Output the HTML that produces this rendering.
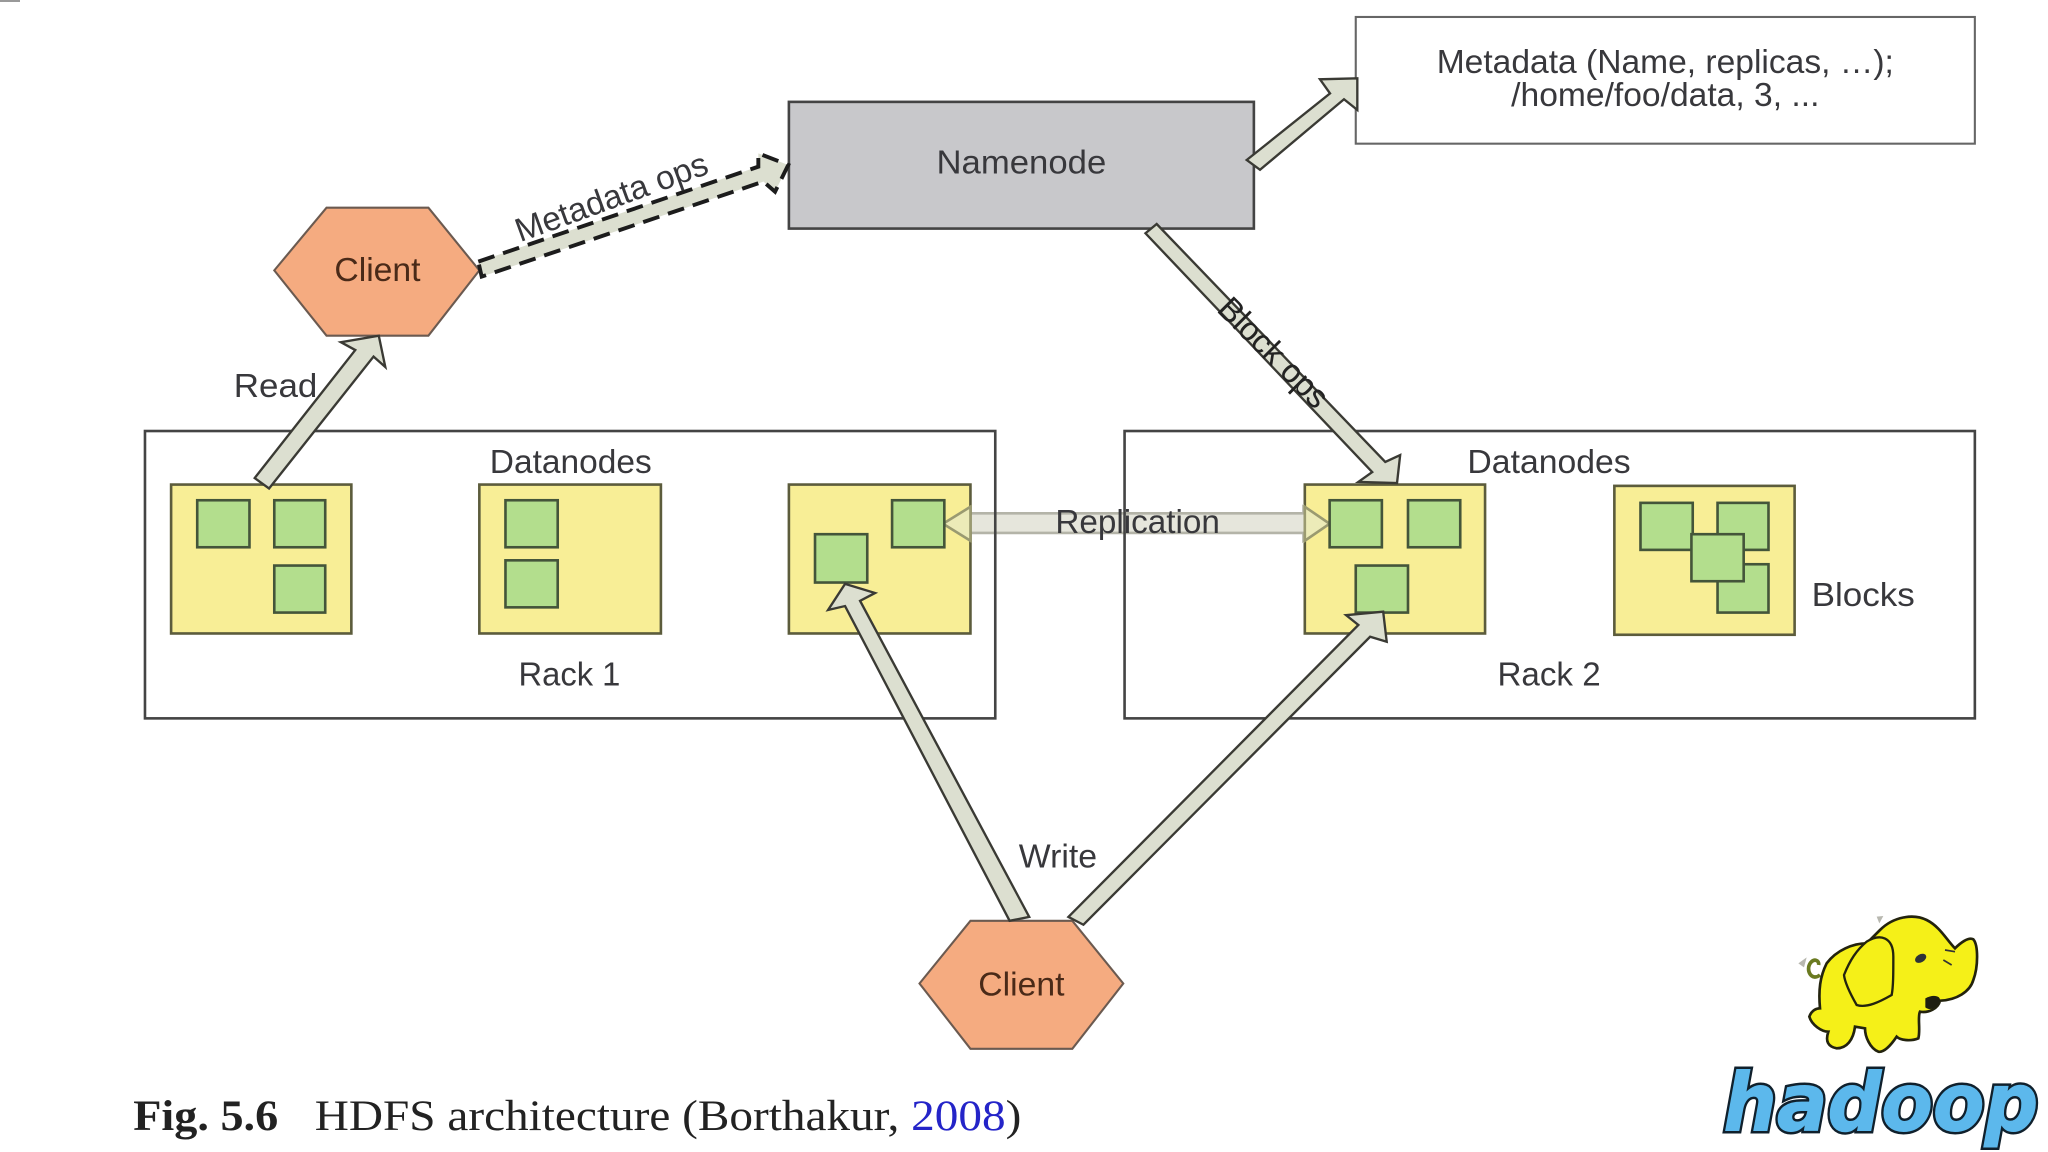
<!DOCTYPE html>
<html><head><meta charset="utf-8">
<style>
html,body{margin:0;padding:0;background:#fff;width:2048px;height:1152px;overflow:hidden}
svg{display:block}
text{font-family:"Liberation Sans",sans-serif;fill:#38383c;font-size:25.5px}
.c{text-anchor:middle}
.cap{font-family:"Liberation Serif",serif;font-size:33px;fill:#222}
.ar{fill:#dcdfd0;stroke:#3a3a34;stroke-width:1.8;stroke-linejoin:miter}
.r{fill:none;stroke:#444;stroke-width:2}
.y{fill:#f8ee96;stroke:#5c5c3c;stroke-width:2}
.g{fill:#b3de8d;stroke:#44553a;stroke-width:2}
.h{fill:#f5ab80;stroke:#6b5a50;stroke-width:1.6}
.hd{font-family:"DejaVu Sans",sans-serif;font-weight:bold;font-style:italic;font-size:240px}
</style></head><body>
<svg width="2048" height="1152" viewBox="0 0 2048 1152" xmlns="http://www.w3.org/2000/svg">
<rect width="2048" height="1152" fill="#fff"/>
<rect x="0" y="0" width="20" height="2" fill="#999"/>
<g transform="scale(1.30612)">
  <!-- replication -->
  <polygon points="722,401 743,388 743,393 998,393 998,388 1018,401 998,414 998,408 743,408 743,414" fill="#e6e6dc" stroke="#b4b4a8" stroke-width="2"/>
  <!-- racks -->
  <rect class="r" x="111" y="330" width="651" height="220"/>
  <rect class="r" x="861" y="330" width="651" height="220"/>
  <!-- nodes -->
  <rect class="y" x="131" y="371" width="138" height="114"/>
  <rect class="y" x="367" y="371" width="139" height="114"/>
  <rect class="y" x="604" y="371" width="139" height="114"/>
  <rect class="y" x="999" y="371" width="138" height="114"/>
  <rect class="y" x="1236" y="372" width="138" height="114"/>
  <polygon points="722,401 743,388 743,414" fill="#ecebb8" stroke="#9a9a70" stroke-width="2"/>
  <polygon points="1018,401 999,388 999,414" fill="#ecebb8" stroke="#9a9a70" stroke-width="2"/>
  <rect class="g" x="151" y="383" width="40" height="36"/>
  <rect class="g" x="210" y="383" width="39" height="36"/>
  <rect class="g" x="210" y="433" width="39" height="36"/>
  <rect class="g" x="387" y="383" width="40" height="36"/>
  <rect class="g" x="387" y="429" width="40" height="36"/>
  <rect class="g" x="683" y="383" width="40" height="36"/>
  <rect class="g" x="624" y="409" width="40" height="37"/>
  <rect class="g" x="1018" y="383" width="40" height="36"/>
  <rect class="g" x="1078" y="383" width="40" height="36"/>
  <rect class="g" x="1038" y="433" width="40" height="36"/>
  <rect class="g" x="1256" y="385" width="40" height="36"/>
  <rect class="g" x="1315" y="385" width="39" height="36"/>
  <rect class="g" x="1315" y="432" width="39" height="37"/>
  <rect class="g" x="1295" y="409" width="40" height="36"/>
  <!-- namenode / metadata -->
  <rect x="604" y="78" width="356" height="97" fill="#c8c8cb" stroke="#444" stroke-width="2"/>
  <rect x="1038" y="13" width="474" height="97" fill="#fff" stroke="#666" stroke-width="1.6"/>
  <!-- clients -->
  <polygon class="h" points="210,207 250,159 328,159 367,207 328,257 250,257"/>
  <polygon class="h" points="704,753 743,705 821,705 860,753 821,803 743,803"/>
  <!-- arrows -->
  <polygon class="ar" points="195,366 272,268 261,262 290,257 295,281 286,273 206,374"/>
  <polygon points="366.2,200.3 580.6,127.6 580.6,117.4 603.5,126.3 593.4,146.8 584.5,139 368.8,211.8" fill="#dcdfd0" stroke="#1c1c1c" stroke-width="3" stroke-dasharray="13 7"/>
  <polygon class="ar" points="877,178.6 885.6,171.5 1060.6,353.7 1072,348.4 1069.6,369.8 1040,369 1050.6,361.4"/>
  <polygon class="ar" points="954.5,122.5 1018.3,71.5 1010.6,60.7 1039.2,60 1039.2,84.2 1029,76 964.7,130"/>
  <polygon class="ar" points="773,705 647,464 634,467 647,447 670,454 658.5,460 788,702"/>
  <polygon class="ar" points="818,702 1040,478.5 1030.6,471 1059,468.3 1061.7,491.3 1049,487.5 829.5,708"/>
  <!-- labels -->
  <text class="c" x="782" y="133" textLength="130" lengthAdjust="spacingAndGlyphs">Namenode</text>
  <text class="c" x="1275" y="56" textLength="350" lengthAdjust="spacingAndGlyphs">Metadata (Name, replicas, …);</text>
  <text class="c" x="1275" y="81" textLength="236" lengthAdjust="spacingAndGlyphs">/home/foo/data, 3, ...</text>
  <text class="c" x="289" y="215" textLength="66" lengthAdjust="spacingAndGlyphs" style="fill:#4a2a18">Client</text>
  <text class="c" x="782" y="762" textLength="66" lengthAdjust="spacingAndGlyphs" style="fill:#4a2a18">Client</text>
  <text x="179" y="304" textLength="64" lengthAdjust="spacingAndGlyphs">Read</text>
  <text class="c" x="437" y="362" textLength="124" lengthAdjust="spacingAndGlyphs">Datanodes</text>
  <text class="c" x="1186" y="362" textLength="125" lengthAdjust="spacingAndGlyphs">Datanodes</text>
  <text class="c" x="436" y="525" textLength="78" lengthAdjust="spacingAndGlyphs">Rack 1</text>
  <text class="c" x="1186" y="525" textLength="79" lengthAdjust="spacingAndGlyphs">Rack 2</text>
  <text x="808" y="408" textLength="126" lengthAdjust="spacingAndGlyphs">Replication</text>
  <text x="1387" y="464" textLength="79" lengthAdjust="spacingAndGlyphs">Blocks</text>
  <text x="780" y="664" textLength="60" lengthAdjust="spacingAndGlyphs">Write</text>
  <text class="c" transform="translate(471,159) rotate(-20)" x="0" y="0" textLength="155" lengthAdjust="spacingAndGlyphs">Metadata ops</text>
  <text class="c" transform="translate(969,276) rotate(45)" x="0" y="0" textLength="108" lengthAdjust="spacingAndGlyphs" style="fill:#222">Block ops</text>
  <text class="cap" x="102" y="865" textLength="111" lengthAdjust="spacingAndGlyphs" style="font-weight:bold">Fig. 5.6</text>
  <text class="cap" x="241" y="865" textLength="541" lengthAdjust="spacingAndGlyphs">HDFS architecture (Borthakur, <tspan style="fill:#2424c8">2008</tspan>)</text>
</g>
<!-- logo -->
<g transform="translate(1680 880) scale(.33333)">
  <path d="M420,285 C395,305 375,270 392,248 C402,235 418,240 416,255" fill="none" stroke="#6a7a20" stroke-width="11"/>
  <path d="M600,150 C640,110 700,100 740,120 C780,140 800,180 825,205 C840,190 865,170 880,178 C895,195 895,260 880,300 C870,335 830,360 780,362 C775,385 745,400 720,395 C712,410 722,450 715,475 C690,485 660,480 650,470 C630,500 610,518 595,515 C570,505 555,470 555,445 L525,440 C520,480 500,505 470,505 C445,500 435,485 445,455 C425,455 395,435 388,410 C395,390 410,385 420,385 C415,330 420,290 440,250 C470,210 520,190 560,190 Z" fill="#f5f018" stroke="#23230e" stroke-width="8"/>
  <path d="M560,185 C600,160 640,170 640,230 C640,280 640,320 635,345 C600,365 560,385 530,375 C510,340 495,310 492,285 C510,240 530,210 560,185 Z" fill="#f5f018" stroke="#23230e" stroke-width="7"/>
  <ellipse cx="722" cy="235" rx="18" ry="12" fill="#2c3238" transform="rotate(-30 722 235)"/>
  <path d="M736,355 C760,342 782,348 780,362 C774,384 750,394 736,382 Z" fill="#1f1f10"/>
  <path d="M795,210 L825,215 M790,240 L815,255" stroke="#333" stroke-width="5"/>
  <path d="M590,110 L610,108 L598,130 Z M355,250 L380,232 L372,262 Z" fill="#b8b8b0"/>
  <text class="hd" x="130" y="752" textLength="945" lengthAdjust="spacingAndGlyphs" style="fill:#10202c;stroke:#10202c;stroke-width:18px">hadoop</text>
  <text class="hd" x="130" y="752" textLength="945" lengthAdjust="spacingAndGlyphs" aria-hidden="true" style="fill:#5cb8ec;stroke:#5cb8ec;stroke-width:3px">hadoop</text>
</g>
</svg>
</body></html>
